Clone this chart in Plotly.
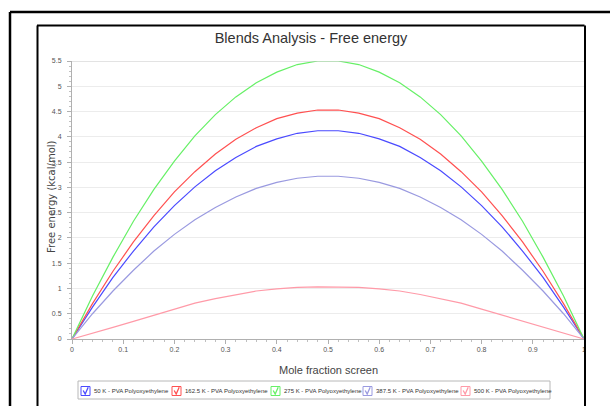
import plotly.graph_objects as go

# ---------------- data ----------------
mole_fraction = [0.00, 0.04, 0.08, 0.12, 0.16, 0.20, 0.24, 0.28, 0.32, 0.36, 0.40, 0.44, 0.48,
                 0.52, 0.56, 0.60, 0.64, 0.68, 0.72, 0.76, 0.80, 0.84, 0.88, 0.92, 0.96, 1.00]

energy_50K = [0, 0.63, 1.22, 1.74, 2.22, 2.64, 3.01, 3.33, 3.59, 3.81, 3.96, 4.07, 4.12,
              4.12, 4.07, 3.96, 3.81, 3.59, 3.33, 3.01, 2.64, 2.22, 1.74, 1.22, 0.63, 0]
energy_162_5K = [0, 0.70, 1.34, 1.92, 2.44, 2.91, 3.31, 3.66, 3.95, 4.18, 4.36, 4.47, 4.53,
                 4.53, 4.47, 4.36, 4.18, 3.95, 3.66, 3.31, 2.91, 2.44, 1.92, 1.34, 0.70, 0]
energy_275K = [0, 0.85, 1.62, 2.33, 2.96, 3.52, 4.02, 4.44, 4.79, 5.07, 5.28, 5.43, 5.50,
               5.50, 5.43, 5.28, 5.07, 4.79, 4.44, 4.02, 3.52, 2.96, 2.33, 1.62, 0.85, 0]
energy_387_5K = [0, 0.50, 0.95, 1.36, 1.74, 2.07, 2.36, 2.60, 2.81, 2.98, 3.10, 3.18, 3.22,
                 3.22, 3.18, 3.10, 2.98, 2.81, 2.60, 2.36, 2.07, 1.74, 1.36, 0.95, 0.50, 0]
energy_500K = [0, 0.11, 0.23, 0.35, 0.47, 0.59, 0.71, 0.80, 0.88, 0.95, 0.99, 1.02, 1.03,
               1.03, 1.02, 0.99, 0.95, 0.88, 0.80, 0.71, 0.59, 0.47, 0.35, 0.23, 0.11, 0]

series_names = ["50 K - PVA Polyoxyethylene", "162.5 K - PVA Polyoxyethylene",
                "275 K - PVA Polyoxyethylene", "387.5 K - PVA Polyoxyethylene",
                "500 K - PVA Polyoxyethylene"]
series_values = [energy_50K, energy_162_5K, energy_275K, energy_387_5K, energy_500K]
series_colors = ["#4a4aff", "#ff5050", "#66f066", "#9a9ae0", "#ff9aa8"]

x_ticks = [0, 0.1, 0.2, 0.3, 0.4, 0.5, 0.6, 0.7, 0.8, 0.9, 1]
x_tick_labels = ["0", "0.1", "0.2", "0.3", "0.4", "0.5", "0.6", "0.7", "0.8", "0.9", "1"]
y_ticks = [0, 0.5, 1, 1.5, 2, 2.5, 3, 3.5, 4, 4.5, 5, 5.5]
y_tick_labels = ["0", "0.5", "1", "1.5", "2", "2.5", "3", "3.5", "4", "4.5", "5", "5.5"]

# ---------------- layout geometry (pixels) ----------------
W, H = 610, 406
L, R, T, B = 72, 26, 61, 67
PW, PH = W - L - R, H - T - B


def px(x):
    return (x - L) / PW


def py(y):
    return (H - B - y) / PH


fig = go.Figure()

for name, vals, col in zip(series_names, series_values, series_colors):
    fig.add_trace(go.Scatter(x=mole_fraction, y=vals, mode="lines", name=name,
                             line=dict(color=col, width=1.2), showlegend=False,
                             hoverinfo="x+y+name"))

shapes = []
annotations = []
# outer frame
shapes.append(dict(type="line", xref="paper", yref="paper", x0=px(10), x1=px(W + 5), y0=py(12), y1=py(12),
                   line=dict(color="black", width=2.5)))
shapes.append(dict(type="line", xref="paper", yref="paper", x0=px(10), x1=px(10), y0=py(12), y1=py(H + 5),
                   line=dict(color="black", width=2.5)))
# inner frame
shapes.append(dict(type="line", xref="paper", yref="paper", x0=px(37), x1=px(584.5), y0=py(25.5), y1=py(25.5),
                   line=dict(color="black", width=2)))
shapes.append(dict(type="line", xref="paper", yref="paper", x0=px(37.5), x1=px(37.5), y0=py(25.5), y1=py(H + 5),
                   line=dict(color="black", width=2)))
shapes.append(dict(type="line", xref="paper", yref="paper", x0=px(585), x1=px(585), y0=py(25.5), y1=py(H + 5),
                   line=dict(color="black", width=2)))
# top gridline (darker)
shapes.append(dict(type="line", xref="paper", yref="y", x0=0, x1=1, y0=5.5, y1=5.5,
                   line=dict(color="#c8c8c8", width=1)))

# custom legend (checkbox style) drawn from the series names / colours
leg_left, leg_right, leg_top, leg_bot = 78, 550, 381, 399
shapes.append(dict(type="rect", xref="paper", yref="paper", x0=px(leg_left), x1=px(leg_right),
                   y0=py(leg_bot), y1=py(leg_top), line=dict(color="#b8b8b8", width=1),
                   fillcolor="white"))
box_lefts = [81, 172, 271, 363, 461]
for name, col, bx in zip(series_names, series_colors, box_lefts):
    by0, by1 = 386.5, 395.5
    shapes.append(dict(type="rect", xref="paper", yref="paper", x0=px(bx), x1=px(bx + 9),
                       y0=py(by1), y1=py(by0), line=dict(color=col, width=1), fillcolor="white"))
    path = "M {:.5f},{:.5f} L {:.5f},{:.5f} L {:.5f},{:.5f}".format(
        px(bx + 2.2), py(390.5), px(bx + 4.2), py(394.0), px(bx + 7.2), py(387.3))
    shapes.append(dict(type="path", xref="paper", yref="paper", path=path,
                       line=dict(color=col, width=1.3)))
    annotations.append(dict(text=name, xref="paper", yref="paper", x=px(bx + 11), y=py(391),
                            xanchor="left", yanchor="middle", showarrow=False,
                            font=dict(family="Liberation Sans, Arial, sans-serif", size=6, color="#333333")))

# y axis title
annotations.append(dict(text="Free energy (kcal/mol)", xref="paper", yref="paper", x=px(51), y=py(197),
                        xanchor="center", yanchor="middle", textangle=-90, showarrow=False,
                        font=dict(family="DejaVu Sans, Verdana, sans-serif", size=10, color="#444444")))
# x axis title
annotations.append(dict(text="Mole fraction screen", xref="paper", yref="paper", x=px(328), y=py(370),
                        xanchor="center", yanchor="middle", showarrow=False,
                        font=dict(family="Liberation Sans, Arial, sans-serif", size=11, color="#444444")))

fig.update_layout(
    width=W, height=H,
    margin=dict(l=L, r=R, t=T, b=B, autoexpand=False),
    paper_bgcolor="white", plot_bgcolor="white",
    title=dict(text="Blends Analysis - Free energy", xref="container", x=311 / W, xanchor="center",
               yref="container", y=1 - 38 / H, yanchor="middle",
               font=dict(family="Liberation Sans, Arial, sans-serif", size=14.5, color="#333333")),
    xaxis=dict(range=[0, 1], tickvals=x_ticks, ticktext=x_tick_labels, showgrid=False,
               zeroline=False, showline=True, linecolor="#b0b0b0", linewidth=1,
               ticks="outside", ticklen=4, tickcolor="#b0b0b0",
               minor=dict(dtick=0.02, ticks="outside", ticklen=2, tickcolor="#c0c0c0"),
               tickfont=dict(family="Liberation Sans, sans-serif", size=7, color="#555555")),
    yaxis=dict(range=[0, 5.5], tickvals=y_ticks, ticktext=y_tick_labels, showgrid=True,
               gridcolor="#ececec", gridwidth=1, zeroline=False, showline=True,
               linecolor="#b0b0b0", linewidth=1, ticks="outside", ticklen=4, tickcolor="#b0b0b0",
               ticklabelstandoff=4,
               minor=dict(dtick=0.1, ticks="outside", ticklen=2, tickcolor="#c0c0c0", showgrid=False),
               tickfont=dict(family="Liberation Sans, sans-serif", size=7, color="#555555")),
    shapes=shapes,
    annotations=annotations,
    showlegend=False,
)

fig.write_html("out.html")
